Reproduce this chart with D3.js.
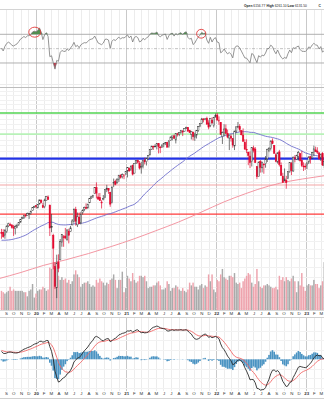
<!DOCTYPE html>
<html>
<head>
<meta charset="utf-8">
<script src="https://cdn.jsdelivr.net/npm/d3@7"></script>
<style>
  html, body { margin: 0; padding: 0; background: #fff; }
  svg { display: block; font-family: "Liberation Sans", Arial, sans-serif; }
</style>
</head>
<body>
<svg id="chart" width="324" height="400"></svg>
<script>
// ---- S&P 500 weekly data ----
// Weekly closes before the first plotted week (Aug 2018 - Aug 2019), used to warm up the indicators
const historyCloses = [2850, 2875, 2902, 2872, 2905, 2930, 2914, 2886, 2767, 2768, 2659, 2723, 2781, 2736, 2633, 2760, 2633, 2600, 2417, 2486,
  2532, 2596, 2671, 2665, 2707, 2708, 2776, 2793, 2804, 2743, 2822, 2801, 2834, 2893, 2907, 2905, 2940, 2946, 2881, 2860, 2826, 2752,
  2873, 2887, 2950, 2942, 2990, 3014, 2977, 3026, 2932, 2919];

// Plotted weeks: Monday of the first and the week after the last
const firstWeek = "2019-08-12";
const endWeek = "2023-03-14";

const opens = [
  2896,2901,2866,2910,2980,2996,2992,2968,2945,2966,2996,3029,3078,3081,3123,3118,3144,3142,3183,3227,
  3248,3218,3273,3321,3248,3235,3319,3370,3257,2974,2863,2508,2291,2555,2579,2782,2846,2855,2815,2915,2913,2994,3038,3199,2994,3094,3018,3155,3200,3224,3219,3289,3356,3380,3418,3508,3371,3363,3296,3334,3368,3500,3494,3441,3296,3584,3600,3579,3634,3698,3675,3684,3723,
  3764,3803,3789,3856,3731,3886,3939,3886,3842,3844,3942,3916,3969,4034,4128,4183,4185,4192,4228,4169,4168,4217,4232,4248,4174,4285,4344,4372,4296,4409,4406,4438,4462,4450,4514,4535,4474,4402,4439,4348,4386,4472,4547,4610,4697,4689,4712,4620,4572,4669,4568,4733,
  4778,4655,4632,4357,4432,4506,4412,4332,4363,4323,4188,4462,4541,4548,4474,4385,4255,4130,4081,4013,3920,4152,4134,3838,3675,3920,3816,3880,3883,3965,4113,4145,4278,4196,4034,3910,4083,3857,3682,3610,3619,3645,3755,3886,3765,3983,3956,4006,4052,3939,3844,3843,
  3853,3910,3999,3979,4071,4119,4098,4068,3982,4055,3854];
const highs = [
  2943,2939,2940,2985,3021,3022,3002,2993,2993,3008,3028,3067,3098,3121,3128,3154,3146,3183,3226,3248,
  3258,3268,3330,3338,3285,3347,3385,3393,3260,3137,2883,2554,2637,2641,2819,2880,2867,2955,2934,2945,2981,3068,3212,3233,3155,3155,3165,3198,3236,3280,3272,3352,3388,3399,3509,3588,3425,3429,3325,3398,3482,3550,3502,3441,3529,3646,3628,3645,3699,3712,3727,3711,3760,
  3827,3823,3859,3870,3887,3937,3950,3928,3915,3944,3983,3978,4020,4129,4191,4193,4219,4238,4237,4186,4218,4234,4249,4262,4286,4356,4372,4393,4415,4429,4440,4469,4481,4513,4546,4536,4485,4465,4454,4429,4475,4560,4608,4718,4714,4718,4744,4672,4713,4731,4740,4808,
  4818,4749,4632,4453,4595,4590,4490,4385,4402,4324,4465,4546,4637,4595,4474,4513,4309,4307,4081,4091,4158,4195,4169,3838,3913,3945,3918,3880,4013,4140,4167,4281,4325,4204,4062,4077,4119,3905,3736,3806,3686,3757,3905,3912,4002,4028,4034,4101,4052,4101,3906,3887,
  3906,4004,4016,4079,4195,4176,4165,4068,4049,4079,3964];
const lows = [
  2822,2834,2822,2891,2964,2985,2946,2856,2874,2952,2979,3023,3066,3075,3091,3117,3070,3124,3181,3222,
  3212,3213,3263,3280,3214,3214,3316,3328,2855,2901,2478,2280,2192,2447,2579,2728,2727,2816,2798,2767,2910,2988,3025,2984,2966,3004,2999,3127,3173,3200,3205,3284,3344,3355,3413,3350,3330,3314,3209,3323,3355,3441,3416,3233,3280,3514,3543,3570,3594,3645,3647,3636,3697,
  3663,3750,3766,3694,3726,3885,3885,3789,3723,3806,3871,3854,3949,4020,4118,4118,4169,4128,4057,4062,4155,4164,4207,4165,4156,4279,4289,4321,4233,4360,4367,4416,4368,4450,4500,4458,4427,4305,4288,4279,4323,4447,4537,4595,4630,4672,4585,4495,4537,4600,4531,4733,
  4663,4582,4395,4223,4366,4401,4327,4115,4267,4157,4115,4424,4517,4450,4381,4268,4124,4062,3859,3811,3838,4074,3901,3637,3675,3739,3742,3721,3818,3911,4079,4107,4218,4057,3907,3886,3838,3693,3584,3604,3492,3636,3736,3699,3751,3906,3944,3936,3919,3828,3765,3784,
  3795,3877,3886,3965,4015,4079,4047,3943,3928,3846,3809];
const closes = [
  2889,2847,2926,2979,3007,2992,2962,2952,2970,2986,3023,3067,3093,3120,3110,3141,3146,3169,3221,3240,
  3235,3265,3330,3295,3226,3328,3380,3338,2954,2972,2711,2305,2541,2489,2790,2875,2837,2831,2930,2864,2955,3044,3194,3041,3098,3009,3130,3185,3225,3216,3271,3351,3373,3397,3508,3427,3341,3319,3298,3348,3477,3484,3465,3270,3509,3585,3558,3638,3699,3663,3709,3703,3756,
  3825,3768,3841,3714,3887,3934,3907,3811,3842,3943,3913,3975,4020,4129,4185,4180,4181,4233,4174,4156,4204,4230,4247,4166,4281,4352,4370,4327,4412,4395,4437,4468,4442,4509,4535,4459,4433,4455,4357,4391,4471,4545,4605,4697,4683,4698,4595,4538,4712,4621,4726,4766,
  4677,4663,4398,4432,4501,4419,4349,4385,4329,4204,4463,4543,4546,4488,4392,4272,4132,4123,4023,3901,4158,4109,3901,3675,3912,3825,3899,3863,3962,4130,4145,4280,4228,4058,3924,4067,3873,3693,3586,3640,3583,3753,3901,3771,3993,3965,4026,4072,3934,3852,3845,3840,
  3895,3999,3973,4071,4136,4090,4079,3970,4046,3862,3917];
// Weekly volume, billions of shares
const volumes = [
  14,13,12,13,14,17,14,15,14,14,14,14,14,13,13,10,14,15,19,9,
  12,14,15,15,17,16,14,15,31,30,34,35,30,25,22,24,22,23,20,22,19,21,26,29,26,24,17,19,20,20,21,19,17,18,17,22,20,23,21,20,18,20,19,22,23,26,22,16,22,22,28,13,16,
  25,23,21,27,22,20,21,25,25,24,25,21,16,17,17,18,18,20,21,18,15,15,16,21,19,14,16,16,18,17,15,14,16,14,13,15,20,18,20,17,17,15,18,19,16,18,17,26,21,26,15,13,
  22,21,26,30,24,23,22,25,25,24,27,20,19,20,16,21,23,25,27,26,20,17,19,30,21,17,16,18,18,19,18,17,16,16,17,15,25,22,24,21,24,22,21,23,25,21,13,21,18,27,17,14,
  18,19,18,18,22,19,19,16,18,21,35];

// 200-week simple moving average, quarterly readings
const ma200Dates = ["2019-08-01","2019-11-01","2020-02-01","2020-05-01","2020-08-01","2020-11-01","2021-02-01","2021-05-01",
  "2021-08-01","2021-11-01","2022-02-01","2022-05-01","2022-08-01","2022-11-01","2023-02-01","2023-04-01"];
const ma200Values = [2380, 2445, 2520, 2580, 2650, 2730, 2820, 2920, 3030, 3160, 3300, 3420, 3530, 3610, 3665, 3700];

// Horizontal price levels
const levelPrices = [4818, 4406, 3967, 3546, 3135];
const levelStyles = [
  { color: "#52d452", width: 1.3 },
  { color: "#b8f2b8", width: 1.8 },
  { color: "#2233e6", width: 2.2 },
  { color: "#f4a6a6", width: 1.1 },
  { color: "#ff3b3b", width: 1.3 }
];

// Marked RSI readings
const rsiMarkDates = ["2019-12-27", "2021-11-01"];
const rsiMarkValues = [73, 70.8];

const monthLetters = ["J","F","M","A","M","J","J","A","S","O","N","D"];
// Quote line in the header: label, value
const quoteLabels = ["Open", "High", "Low", "C"];
const quoteValues = ["6156.77", "6261.10", "6131.50", ""];

// ---- indicators ----
const allCloses = historyCloses.concat(closes);
const offset = historyCloses.length;

function sma(arr, n) {
  return arr.map((v, i) => i < n - 1 ? null : d3.mean(arr.slice(i - n + 1, i + 1)));
}
function ema(arr, n) {
  const k = 2 / (n + 1);
  let e = arr[0];
  return arr.map((v, i) => (e = i === 0 ? v : e + k * (v - e)));
}
function wilderRsi(arr, n) {
  const out = arr.map(() => null);
  let g = 0, l = 0;
  for (let i = 1; i <= n; i++) {
    const d = arr[i] - arr[i - 1];
    if (d > 0) g += d; else l -= d;
  }
  g /= n; l /= n;
  out[n] = 100 - 100 / (1 + g / l);
  for (let i = n + 1; i < arr.length; i++) {
    const d = arr[i] - arr[i - 1];
    g = (g * (n - 1) + Math.max(d, 0)) / n;
    l = (l * (n - 1) + Math.max(-d, 0)) / n;
    out[i] = l === 0 ? 100 : 100 - 100 / (1 + g / l);
  }
  return out;
}

const ma50All = sma(allCloses, 50);
const rsiAll = wilderRsi(allCloses, 14);
const ema12 = ema(allCloses, 12), ema26 = ema(allCloses, 26);
const macdAll = allCloses.map((v, i) => ema12[i] - ema26[i]);
const signalAll = ema(macdAll, 9);

const parse = d3.timeParse("%Y-%m-%d");
const mondays = d3.timeMonday.range(parse(firstWeek), parse(endWeek));
const weeks = closes.map((c, i) => {
  const k = i + offset;
  return {
    date: d3.timeDay.offset(mondays[i], 2),
    o: opens[i], h: highs[i], l: lows[i], c: c, v: volumes[i],
    prev: allCloses[k - 1],
    ma50: ma50All[k], rsi: rsiAll[k],
    macd: macdAll[k], signal: signalAll[k], hist: macdAll[k] - signalAll[k]
  };
});

// ---- layout & scales ----
const W = 324;
const P = {
  rsi: { top: 9, bottom: 87 },
  price: { top: 88, bottom: 311 },
  macd: { top: 317, bottom: 398 }
};

const x = d3.scaleTime().domain([new Date(2019, 7, 8), new Date(2023, 2, 14)]).range([0, W]);
const yPrice = d3.scaleLog().domain([2093, 5359]).range([309, 88]);
const yVol = d3.scaleLinear().domain([0, 38]).range([310, 258]);
const yRsi = d3.scaleLinear().domain([0, 100]).range([84.5, 12.8]);
const yMacd = d3.scaleLinear().domain([-170, 190]).range([391.6, 323.2]);

const svg = d3.select("#chart");
const defs = svg.append("defs");
function clip(id, top, bottom) {
  defs.append("clipPath").attr("id", id).append("rect")
    .attr("x", 0).attr("y", top).attr("width", W).attr("height", bottom - top);
}
clip("clip-rsi", P.rsi.top, P.rsi.bottom);
clip("clip-price", P.price.top, 310.5);
clip("clip-macd", P.macd.top, 392);

const months = d3.timeMonth.range(x.domain()[0], x.domain()[1]);

// vertical month grid in every panel
function monthGrid(top, bottom) {
  svg.append("g").selectAll("line").data(months).join("line")
    .attr("x1", d => Math.round(x(d)) + 0.5).attr("x2", d => Math.round(x(d)) + 0.5)
    .attr("y1", top).attr("y2", bottom)
    .attr("stroke", d => d.getMonth() === 0 ? "#c9c9c9" : "#ececec")
    .attr("stroke-width", 1);
}

// ---- header quote line ----
const quoteX = [244, 266.5, 287.5, 318.5];
const header = svg.append("g").attr("font-size", 3.3).attr("fill", "#222");
quoteLabels.forEach((lab, i) => {
  const t = header.append("text").attr("x", quoteX[i]).attr("y", 7.2);
  t.append("tspan").attr("font-weight", "bold").text(lab);
  if (quoteValues[i]) t.append("tspan").text(" " + quoteValues[i]);
});

// ---- RSI panel ----
monthGrid(P.rsi.top, P.rsi.bottom);
svg.append("line").attr("x1", 0).attr("x2", W).attr("y1", P.rsi.top + 0.5).attr("y2", P.rsi.top + 0.5)
  .attr("stroke", "#d4d4d4");
svg.append("line").attr("x1", 0).attr("x2", W).attr("y1", 84.5).attr("y2", 84.5).attr("stroke", "#ececec");
[70, 30].forEach(v => {
  svg.append("line").attr("x1", 0).attr("x2", W).attr("y1", yRsi(v)).attr("y2", yRsi(v))
    .attr("stroke", "#a8a8a8").attr("stroke-width", 0.9);
});
svg.append("line").attr("x1", 0).attr("x2", W).attr("y1", yRsi(50)).attr("y2", yRsi(50))
  .attr("stroke", "#b4b4b4").attr("stroke-width", 0.8).attr("stroke-dasharray", "3,1.5,1,1.5");

const gRsi = svg.append("g").attr("clip-path", "url(#clip-rsi)");
gRsi.append("path").datum(weeks)
  .attr("d", d3.area().x(d => x(d.date)).y0(yRsi(70)).y1(d => yRsi(Math.max(d.rsi, 70))))
  .attr("fill", "#4f8f4f");
gRsi.append("path").datum(weeks)
  .attr("d", d3.area().x(d => x(d.date)).y0(yRsi(30)).y1(d => yRsi(Math.min(d.rsi, 30))))
  .attr("fill", "#c0394a");
gRsi.append("path").datum(weeks)
  .attr("d", d3.line().x(d => x(d.date)).y(d => yRsi(d.rsi)))
  .attr("fill", "none").attr("stroke", "#7a7a7a").attr("stroke-width", 0.8);
gRsi.selectAll("ellipse").data(rsiMarkDates).join("ellipse")
  .attr("cx", d => x(parse(d))).attr("cy", (d, i) => yRsi(rsiMarkValues[i]))
  .attr("rx", (d, i) => i === 0 ? 6 : 4.6).attr("ry", (d, i) => i === 0 ? 5 : 4.4)
  .attr("fill", "none").attr("stroke", "#e23a3a").attr("stroke-width", 0.9);

svg.append("line").attr("x1", 0).attr("x2", W).attr("y1", P.rsi.bottom + 0.5).attr("y2", P.rsi.bottom + 0.5)
  .attr("stroke", "#bdbdbd");

// ---- price panel ----
monthGrid(P.price.top, 310.5);
const gPrice = svg.append("g").attr("clip-path", "url(#clip-price)");
gPrice.append("g").selectAll("line").data(d3.range(2100, 5400, 100)).join("line")
  .attr("x1", 0).attr("x2", W)
  .attr("y1", d => Math.round(yPrice(d)) + 0.5).attr("y2", d => Math.round(yPrice(d)) + 0.5)
  .attr("stroke", "#f1f1f1");

// volume
const barW = 1.45;
gPrice.append("g").selectAll("rect").data(weeks).join("rect")
  .attr("x", d => x(d.date) - barW / 2).attr("width", barW)
  .attr("y", d => yVol(d.v)).attr("height", d => yVol(0) - yVol(d.v))
  .attr("fill", d => d.c >= d.prev ? "#aaaaaa" : "#eea3ad");

// price levels
gPrice.append("g").selectAll("line").data(levelPrices).join("line")
  .attr("x1", 0).attr("x2", W)
  .attr("y1", d => yPrice(d)).attr("y2", d => yPrice(d))
  .attr("stroke", (d, i) => levelStyles[i].color)
  .attr("stroke-width", (d, i) => levelStyles[i].width);

// moving averages
gPrice.append("path").datum(ma200Dates.map((d, i) => [parse(d), ma200Values[i]]))
  .attr("d", d3.line().x(d => x(d[0])).y(d => yPrice(d[1])).curve(d3.curveMonotoneX))
  .attr("fill", "none").attr("stroke", "#f28b98").attr("stroke-width", 0.9);
gPrice.append("path").datum(weeks)
  .attr("d", d3.line().x(d => x(d.date)).y(d => yPrice(d.ma50)).curve(d3.curveMonotoneX))
  .attr("fill", "none").attr("stroke", "#6d6dcc").attr("stroke-width", 0.9);

// candles
const candleW = 1.4;
const candles = gPrice.append("g").selectAll("g").data(weeks).join("g");
const candleColor = d => d.c >= d.prev ? "#3d3d3d" : "#e3082e";
candles.append("line")
  .attr("x1", d => x(d.date)).attr("x2", d => x(d.date))
  .attr("y1", d => yPrice(d.h)).attr("y2", d => yPrice(d.l))
  .attr("stroke", candleColor).attr("stroke-width", 0.7);
candles.append("rect")
  .attr("x", d => x(d.date) - candleW / 2).attr("width", candleW)
  .attr("y", d => yPrice(Math.max(d.o, d.c)))
  .attr("height", d => Math.max(0.8, yPrice(Math.min(d.o, d.c)) - yPrice(Math.max(d.o, d.c))))
  .attr("fill", d => d.c < d.o ? candleColor(d) : "#ffffff")
  .attr("stroke", candleColor).attr("stroke-width", 0.5);

// month labels
function monthAxis(yPos) {
  const ax = svg.append("g").attr("transform", `translate(0,${yPos})`)
    .call(d3.axisBottom(x).tickValues(months).tickSize(0).tickPadding(1)
      .tickFormat(d => d.getMonth() === 0 ? d3.timeFormat("%y")(d) : monthLetters[d.getMonth()]));
  ax.select(".domain").remove();
  ax.selectAll("text").attr("font-size", 4.4).attr("fill", "#333")
    .attr("font-family", "'Liberation Sans', Arial, sans-serif")
    .attr("font-weight", d => d.getMonth() === 0 ? "bold" : "normal");
}
monthAxis(311);
svg.append("line").attr("x1", 0).attr("x2", W).attr("y1", 310.5).attr("y2", 310.5).attr("stroke", "#d8d8d8");

// ---- MACD panel ----
monthGrid(P.macd.top, 391);
svg.append("line").attr("x1", 0).attr("x2", W).attr("y1", P.macd.top + 0.5).attr("y2", P.macd.top + 0.5)
  .attr("stroke", "#d0d0d0");
svg.append("g").selectAll("line").data([-150, -100, -50, 50, 100, 150]).join("line")
  .attr("x1", 0).attr("x2", W)
  .attr("y1", d => Math.round(yMacd(d)) + 0.5).attr("y2", d => Math.round(yMacd(d)) + 0.5)
  .attr("stroke", "#f2f2f2");
const gMacd = svg.append("g").attr("clip-path", "url(#clip-macd)");
gMacd.append("g").selectAll("rect").data(weeks).join("rect")
  .attr("x", d => x(d.date) - 0.8).attr("width", 1.6)
  .attr("y", d => Math.min(yMacd(0), yMacd(d.hist)))
  .attr("height", d => Math.abs(yMacd(d.hist) - yMacd(0)))
  .attr("fill", "#4a93c2");
gMacd.append("path").datum(weeks)
  .attr("d", d3.line().x(d => x(d.date)).y(d => yMacd(d.signal)))
  .attr("fill", "none").attr("stroke", "#f26868").attr("stroke-width", 0.9);
gMacd.append("path").datum(weeks)
  .attr("d", d3.line().x(d => x(d.date)).y(d => yMacd(d.macd)))
  .attr("fill", "none").attr("stroke", "#2a2a2a").attr("stroke-width", 0.9);
monthAxis(391);
svg.append("line").attr("x1", 0).attr("x2", W).attr("y1", 398.5).attr("y2", 398.5).attr("stroke", "#d0d0d0");
</script>
</body>
</html>
